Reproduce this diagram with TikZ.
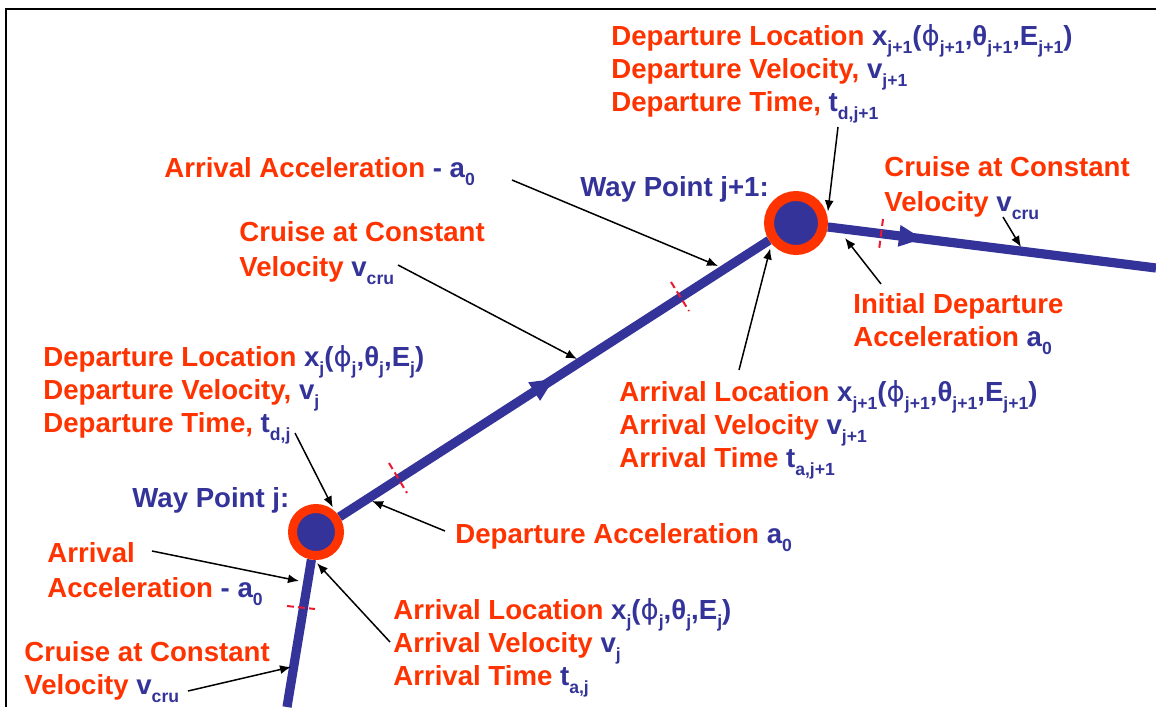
\documentclass[tikz,border=0pt]{standalone}
\usepackage{fontspec}
\setmainfont{Liberation Sans}
\newfontfamily\phifont{DejaVu Sans}
\usetikzlibrary{arrows.meta,decorations.markings}
\pgfdeclarelayer{background}
\pgfsetlayers{background,main}
\definecolor{lblred}{RGB}{255,51,0}
\definecolor{lblblue}{RGB}{51,51,153}
\definecolor{tickred}{RGB}{235,25,50}
\newcommand\sbs[1]{\smash{\raisebox{-0.3em}{\fontsize{8.8pt}{8.8pt}\selectfont #1}}}
\newcommand\bl[1]{\textcolor{lblblue}{#1}}
\newcommand\vphi{{\phifont\mdseries ϕ}}
\newcommand\lblrows[1]{\begin{tabular}[t]{@{}l@{}}#1\end{tabular}}
\tikzset{
  lbl/.style={anchor=base west, inner sep=0pt, text=lblred,
    font=\bfseries\fontsize{13.8pt}{16.5pt}\selectfont},
  lblwide/.style={lbl, font=\bfseries\fontsize{13.8pt}{17.5pt}\selectfont},
  wp/.style={circle, fill=lblblue, draw=lblred, line width=4.5pt,
    minimum size=23.5pt, inner sep=0pt},
  wpbig/.style={wp, line width=5pt, minimum size=27pt},
  route/.style={draw=lblblue, line width=4.6pt},
  tick/.style={draw=tickred, line width=1pt, dash pattern=on 3.5pt off 2pt},
  callout/.style={draw=black, line width=0.75pt,
    -{Latex[length=5.5pt,width=4.5pt]}},
  midarrow/.style={postaction={decorate},
    decoration={markings, mark=at position #1 with
      {\arrow{Triangle[length=12pt,width=10pt]}}}}
}
\begin{document}
\begin{tikzpicture}[x=0.5pt,y=-0.5pt]
\useasboundingbox (0,0) rectangle (1156,707);
% frame
\draw[line width=1.2pt] (6,707) -- (6,9) -- (1156,9);

% way points
\node[wp] (wpA) at (316,532) {};
\node[wpbig] (wpB) at (796,223) {};
\coordinate (pstart) at (287,707);
\coordinate (pend) at (1156,268);

% route
\begin{pgfonlayer}{background}
\draw[route] (pstart) -- (wpA);
\draw[route, midarrow=0.5] (wpA) -- (wpB);
\draw[route, midarrow=0.29] (wpB) -- (pend);
\end{pgfonlayer}

% phase boundary ticks
\draw[tick] (287,606) -- (315,609);
\draw[tick] (389,463) -- (407,493);
\draw[tick] (671,282) -- (689,311);
\draw[tick] (883,219) -- (879,250);

% labels
\node[lbl] (depB) at (611,45) {\lblrows{Departure Location \bl{x\sbs{j+1}(\vphi\sbs{j+1},θ\sbs{j+1},E\sbs{j+1})}\\
  Departure Velocity, \bl{v\sbs{j+1}}\\
  Departure Time, \bl{t\sbs{d,j+1}}}};
\node[lbl] (arrAccB) at (164,177) {Arrival Acceleration \bl{- a\sbs{0}}};
\node[lbl, text=lblblue] (wpBlbl) at (580,196) {Way Point j+1:};
\node[lblwide] (cruB) at (884,176) {\lblrows{Cruise at Constant\\ Velocity \bl{v\sbs{cru}}}};
\node[lblwide] (cruA) at (239,241) {\lblrows{Cruise at Constant\\ Velocity \bl{v\sbs{cru}}}};
\node[lbl] (initDep) at (853,313) {\lblrows{Initial Departure\\ Acceleration \bl{a\sbs{0}}}};
\node[lbl] (arrB) at (619,401) {\lblrows{Arrival Location \bl{x\sbs{j+1}(\vphi\sbs{j+1},θ\sbs{j+1},E\sbs{j+1})}\\
  Arrival Velocity \bl{v\sbs{j+1}}\\
  Arrival Time \bl{t\sbs{a,j+1}}}};
\node[lbl] (depA) at (43,366) {\lblrows{Departure Location \bl{x\sbs{j}(\vphi\sbs{j},θ\sbs{j},E\sbs{j})}\\
  Departure Velocity, \bl{v\sbs{j}}\\
  Departure Time, \bl{t\sbs{d,j}}}};
\node[lbl, text=lblblue] (wpAlbl) at (132,507) {Way Point j:};
\node[lbl] (depAcc) at (455,543) {Departure Acceleration \bl{a\sbs{0}}};
\node[lblwide] (arrAccA) at (47,562) {\lblrows{Arrival\\ Acceleration \bl{- a\sbs{0}}}};
\node[lbl] (arrA) at (393,619) {\lblrows{Arrival Location \bl{x\sbs{j}(\vphi\sbs{j},θ\sbs{j},E\sbs{j})}\\
  Arrival Velocity \bl{v\sbs{j}}\\
  Arrival Time \bl{t\sbs{a,j}}}};
\node[lbl] (cruC) at (24,661) {\lblrows{Cruise at Constant\\ Velocity \bl{v\sbs{cru}}}};

% callout start / end points
\coordinate (s1) at (838,127);
\coordinate (s2) at (512,180);   \coordinate (e2) at (718,266);
\coordinate (s3) at (1003,217);  \coordinate (e3) at (1021,247);
\coordinate (s4) at (398,265);   \coordinate (e4) at (577,359);
\coordinate (s5) at (881,284);   \coordinate (e5) at (845,238);
\coordinate (s6) at (739,370);
\coordinate (s7) at (295,433);
\coordinate (s8) at (445,531);   \coordinate (e8) at (372,501);
\coordinate (s9) at (152,551);   \coordinate (e9) at (299,581);
\coordinate (s10) at (390,642);
\coordinate (s11) at (188,691);  \coordinate (e11) at (291,667);

\draw[callout, shorten >=2.5pt] (s1) -- (wpB.12);
\draw[callout] (s2) -- (e2);
\draw[callout] (s3) -- (e3);
\draw[callout] (s4) -- (e4);
\draw[callout] (s5) -- (e5);
\draw[callout, shorten >=2.5pt] (s6) -- (wpB.220);
\draw[callout, shorten >=2.2pt] (s7) -- (wpA.48);
\draw[callout] (s8) -- (e8);
\draw[callout] (s9) -- (e9);
\draw[callout, shorten >=2.2pt] (s10) -- (wpA.266);
\draw[callout] (s11) -- (e11);
\end{tikzpicture}
\end{document}
